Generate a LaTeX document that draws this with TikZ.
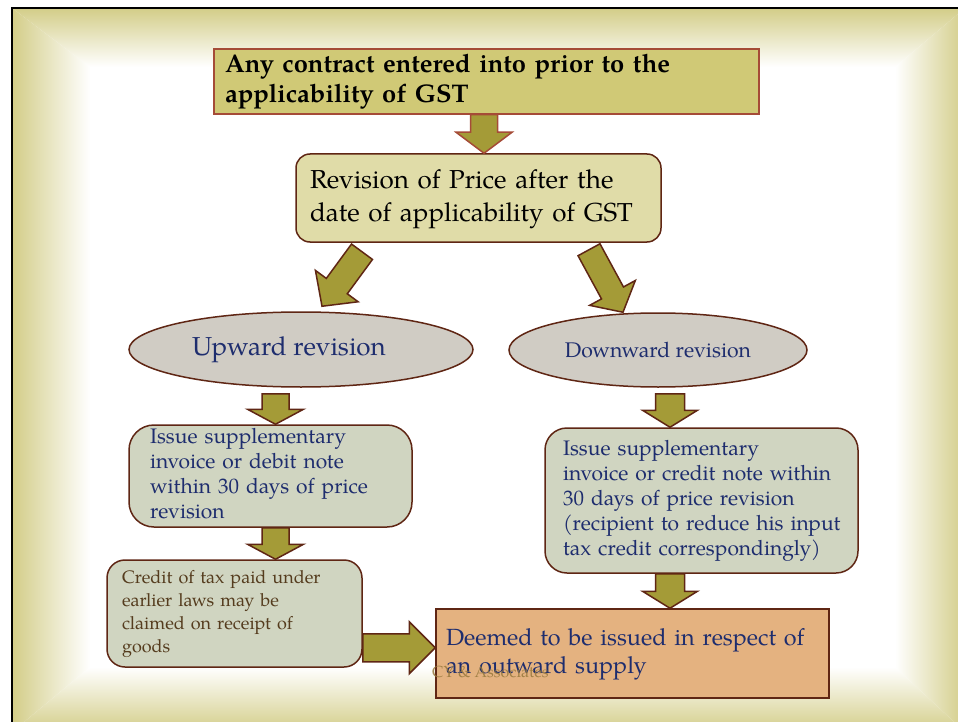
\documentclass[tikz,border=0pt]{standalone}
\usepackage{fontspec}
\setmainfont{TeX Gyre Pagella}
\usetikzlibrary{calc,shapes.geometric}

\definecolor{frameol}{RGB}{211,205,136}
\definecolor{topfill}{RGB}{208,201,118}
\definecolor{redbrown}{RGB}{165,75,55}
\definecolor{darkbrown}{RGB}{95,38,20}
\definecolor{arrowol}{RGB}{164,155,55}
\definecolor{khaki}{RGB}{224,220,168}
\definecolor{ellgray}{RGB}{208,204,196}
\definecolor{sage}{RGB}{208,213,193}
\definecolor{peach}{RGB}{228,178,128}
\definecolor{navy}{RGB}{30,45,110}
\definecolor{credbrown}{RGB}{85,60,30}
\definecolor{wmark}{RGB}{150,120,60}

\tikzset{
  box/.style={draw=darkbrown, line width=1.5pt, inner sep=0pt, align=left},
  oval/.style={ellipse, draw=darkbrown, line width=1.5pt, fill=ellgray, inner sep=0pt, text=navy},
  barrow/.style={fill=arrowol, draw=darkbrown, line width=1.5pt, line join=miter},
}

% lines that never wrap
\newcommand{\lines}[1]{\begin{tabular}{@{}l@{}}#1\end{tabular}}

% #2 start, #3 tip, #4 shaft half width, #5 head half width, #6 head length
\newcommand{\blockarrow}[6][]{%
  \coordinate (bah) at ($(#3)!#6!(#2)$);
  \draw[barrow,#1] ($(#2)!#4!90:(#3)$) -- ($(bah)!#4!90:(#3)$) -- ($(bah)!#5!90:(#3)$)
    -- (#3) -- ($(bah)!#5!-90:(#3)$) -- ($(bah)!#4!-90:(#3)$) -- ($(#2)!#4!-90:(#3)$) -- cycle;
}

\begin{document}
\begin{tikzpicture}[x=1pt,y=-1pt]
\clip (0,0) rectangle (958,722);
\useasboundingbox (0,0) rectangle (958,722);
\fill[white] (0,0) rectangle (958,722);

% shaded frame
\shade[top color=frameol, bottom color=white] (12,8) -- (965,8) -- (895,67) -- (90,67) -- cycle;
\shade[left color=frameol, right color=white] (12,8) -- (90,67) -- (90,667) -- (12,732) -- cycle;
\shade[left color=white, right color=frameol] (965,8) -- (965,732) -- (895,667) -- (895,67) -- cycle;
\shade[top color=white, bottom color=frameol] (12,732) -- (965,732) -- (895,667) -- (90,667) -- cycle;
\draw[line width=2pt, black] (12,8) rectangle (965,732);

% nodes
\node[box, draw=redbrown, fill=topfill, minimum width=545pt, minimum height=65pt, text width=523pt,
      font=\fontsize{25.5pt}{30pt}\selectfont\bfseries] (box1) at (486.5,81.5)
      {\lines{Any contract entered into prior to the\\applicability of GST}};

\node[box, rounded corners=14pt, fill=khaki, minimum width=365pt, minimum height=88pt, text width=337pt,
      font=\fontsize{26pt}{33pt}\selectfont] (box2) at (478.5,198)
      {\lines{Revision of Price after the\\date of applicability of GST}};

\node[oval, minimum width=344pt, minimum height=75pt, font=\fontsize{26pt}{30pt}\selectfont] (up) at (301,349.5)
      {Upward revision\hspace*{24pt}};

\node[oval, minimum width=298pt, minimum height=74pt, font=\fontsize{21.2pt}{25pt}\selectfont] (down) at (658,350)
      {Downward revision};

\node[box, rounded corners=25pt, fill=sage, minimum width=283pt, minimum height=102pt, text width=241pt,
      text=navy, font=\fontsize{21pt}{25pt}\selectfont] (iss1) at (270.5,476)
      {\lines{Issue supplementary\\invoice or debit note\\within 30 days of price\\revision}};

\node[box, rounded corners=22pt, fill=sage, minimum width=313pt, minimum height=145pt, text width=277pt,
      text=navy, font=\fontsize{21pt}{25pt}\selectfont] (iss2) at (701.5,500.5)
      {\lines{Issue supplementary\\invoice or credit note within\\30 days of price revision\\(recipient to reduce his input\\tax credit correspondingly)}};

\node[box, rounded corners=18pt, fill=sage, minimum width=255pt, minimum height=107pt, text width=225pt,
      text=credbrown, font=\fontsize{18pt}{22.7pt}\selectfont] (credit) at (234.5,613.5)
      {\lines{Credit of tax paid under\\earlier laws may be\\claimed on receipt of\\goods}};

\node[box, fill=peach, minimum width=393pt, minimum height=89pt, text width=373pt,
      text=navy, font=\fontsize{23.4pt}{28pt}\selectfont] (deemed) at (632.5,653.5)
      {\lines{Deemed to be issued in respect of\\an outward supply}};

\node[anchor=base west, inner sep=0pt, text=wmark, opacity=0.85, font=\fontsize{16pt}{18pt}\selectfont] (wm) at (432,677)
      {CY \& Associates};

% block arrows
\coordinate (a1s) at ($(box1.south)+(-2.5,0)$);
\coordinate (a1e) at (a1s |- box2.north);
\blockarrow[draw=redbrown]{a1s}{a1e}{13.5pt}{28pt}{21pt}

\coordinate (a2s) at ($(box2.south)+(-116.5,9)$);
\coordinate (a2e) at ($(up.north)+(21,-5)$);
\blockarrow{a2s}{a2e}{13pt}{26.5pt}{25pt}

\coordinate (a3s) at ($(box2.south)+(110.5,7)$);
\coordinate (a3e) at ($(down.north)+(-35,0)$);
\blockarrow{a3s}{a3e}{12.5pt}{26pt}{22pt}

\coordinate (a4s) at ($(up.south)+(-25.5,6)$);
\coordinate (a4e) at (a4s |- iss1.north);
\blockarrow{a4s}{a4e}{13.5pt}{28pt}{15pt}

\coordinate (a5s) at ($(iss1.south)+(5,0)$);
\coordinate (a5e) at (a5s |- credit.north);
\blockarrow{a5s}{a5e}{13.5pt}{28pt}{15pt}

\coordinate (a6s) at ($(down.south)+(12,6)$);
\coordinate (a6e) at (a6s |- iss2.north);
\blockarrow{a6s}{a6e}{14.5pt}{27.5pt}{17pt}

\coordinate (a7s) at ($(iss2.south)+(-31.5,0)$);
\coordinate (a7e) at (a7s |- deemed.north);
\blockarrow{a7s}{a7e}{14.5pt}{27.5pt}{17pt}

\coordinate (a8s) at ($(credit.south east)+(0,-20)$);
\coordinate (a8e) at (a8s -| deemed.west);
\blockarrow{a8s}{a8e}{14pt}{26pt}{26pt}
\end{tikzpicture}
\end{document}
